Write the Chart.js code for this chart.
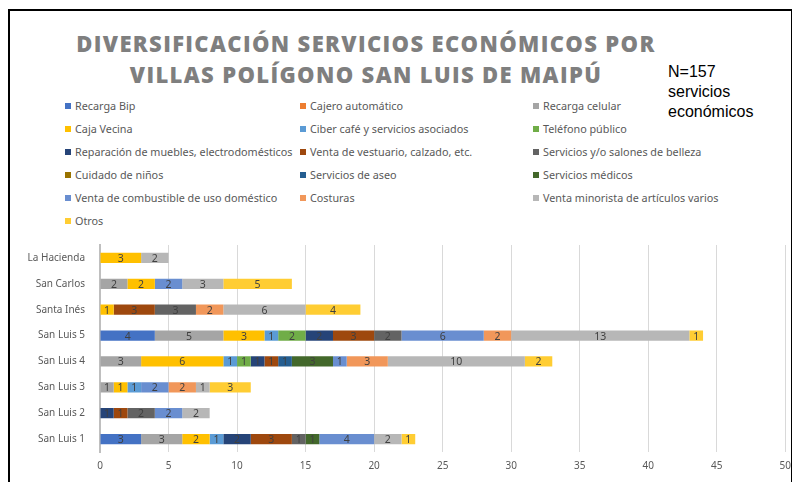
<!DOCTYPE html>
<html>
<head>
<meta charset="utf-8">
<script src="https://cdn.jsdelivr.net/npm/chart.js@4"></script>
<style>
  body { margin: 0; width: 799px; height: 482px; background: #fff; position: relative; overflow: hidden; font-family: 'Noto Sans', sans-serif; }
  #frame { position: absolute; left: 8px; top: 9px; width: 781px; height: 480px; border-left: 2px solid #000; border-top: 2px solid #000; border-right: 1px solid #000; }
  #title { position: absolute; left: 0; width: 732px; top: 28px; text-align: center; font-family: 'Open Sans', sans-serif; font-weight: 800; font-size: 22px; line-height: 31px; color: #7f7f7f; letter-spacing: 1.35px; }
  #note { position: absolute; left: 668px; top: 62px; font-family: 'Liberation Sans', Arial, sans-serif; font-size: 16px; line-height: 20px; color: #000; }
  #legend { position: absolute; left: 65px; top: 99px; }
  .item { position: absolute; white-space: nowrap; font-size: 10.8px; color: #595959; line-height: 14px; }
  .item i { display: inline-block; width: 6px; height: 6px; margin-right: 4px; vertical-align: 1px; }
  #wrap { position: absolute; left: 0; top: 232px; width: 799px; height: 250px; }
</style>
</head>
<body>
<div id="frame"></div>
<div id="title">DIVERSIFICACIÓN SERVICIOS ECONÓMICOS POR<br>VILLAS POLÍGONO SAN LUIS DE MAIPÚ</div>
<div id="note">N=157<br>servicios<br>económicos</div>
<div id="legend"></div>
<div id="wrap"><canvas id="chart"></canvas></div>
<script>
const villas = ['La Hacienda', 'San Carlos', 'Santa Inés', 'San Luis 5', 'San Luis 4', 'San Luis 3', 'San Luis 2', 'San Luis 1'];

const servicios = [
    'Recarga Bip', 'Cajero automático', 'Recarga celular',
    'Caja Vecina', 'Ciber café y servicios asociados', 'Teléfono público',
    'Reparación de muebles, electrodomésticos', 'Venta de vestuario, calzado, etc.', 'Servicios y/o salones de belleza',
    'Cuidado de niños', 'Servicios de aseo', 'Servicios médicos',
    'Venta de combustible de uso doméstico', 'Costuras', 'Venta minorista de artículos varios',
    'Otros',
];

const colores = [
    '#4472c4', '#ed7d31', '#a5a5a5', '#ffc000', '#5b9bd5', '#70ad47',
    '#264478', '#9e480e', '#636363', '#997300', '#255e91', '#43682b',
    '#698ed0', '#f1975a', '#b7b7b7', '#ffcd33',
];

// one row per servicio, values in the order of villas (0 = none)
const recargaBip     = [0, 0, 0, 4, 0, 0, 0, 3];
const cajero         = [0, 0, 0, 0, 0, 0, 0, 0];
const recargaCelular = [0, 2, 0, 5, 3, 1, 0, 3];
const cajaVecina     = [3, 2, 1, 3, 6, 1, 0, 2];
const ciberCafe      = [0, 0, 0, 1, 1, 1, 0, 1];
const telefono       = [0, 0, 0, 2, 1, 0, 0, 0];
const reparacion     = [0, 0, 0, 2, 1, 0, 1, 2];
const vestuario      = [0, 0, 3, 3, 1, 0, 1, 3];
const belleza        = [0, 0, 3, 2, 0, 0, 2, 1];
const cuidadoNinos   = [0, 0, 0, 0, 0, 0, 0, 0];
const aseo           = [0, 0, 0, 0, 1, 0, 0, 0];
const medicos        = [0, 0, 0, 0, 3, 0, 0, 1];
const combustible    = [0, 2, 0, 6, 1, 2, 2, 4];
const costuras       = [0, 0, 2, 2, 3, 2, 0, 0];
const minorista      = [2, 3, 6, 13, 10, 1, 2, 2];
const otros          = [0, 5, 4, 1, 2, 3, 0, 1];

const valores = [recargaBip, cajero, recargaCelular, cajaVecina, ciberCafe, telefono, reparacion, vestuario, belleza, cuidadoNinos, aseo, medicos, combustible, costuras, minorista, otros];

const xTicks = [0, 5, 10, 15, 20, 25, 30, 35, 40, 45, 50];

// html legend, 3 columns like the original
const legend = document.getElementById('legend');
const colX = [0, 235, 468];
servicios.forEach((name, i) => {
    const item = Object.assign(document.createElement('div'), { className: 'item' });
    item.style.left = colX[i % 3] + 'px';
    item.style.top = Math.floor(i / 3) * 23 + 'px';
    item.innerHTML = `<i style="background:${colores[i]}"></i>${name}`;
    legend.append(item);
});

const barLabels = {
    id: 'barLabels',
    afterDatasetsDraw(chart) {
        const ctx = chart.ctx;
        ctx.save();
        ctx.font = '10.5px "Noto Sans"';
        ctx.fillStyle = '#404040';
        ctx.textAlign = 'center';
        ctx.textBaseline = 'middle';
        chart.data.datasets.forEach((ds, di) => {
            chart.getDatasetMeta(di).data.forEach((bar, i) => {
                const v = ds.data[i];
                if (!v) return;
                ctx.fillText(v, (bar.x + bar.base) / 2, bar.y + 1);
            });
        });
        ctx.restore();
    },
};

new Chart(document.getElementById('chart'), {
    type: 'bar',
    data: {
        labels: villas,
        datasets: servicios.map((name, i) => ({
            label: name,
            data: valores[i],
            backgroundColor: colores[i],
            borderWidth: 0,
            barPercentage: 0.4,
            categoryPercentage: 1,
        })),
    },
    options: {
        indexAxis: 'y',
        animation: false,
        responsive: true,
        maintainAspectRatio: false,
        layout: { padding: { top: 4, right: 11, left: 0, bottom: 0 } },
        scales: {
            x: {
                stacked: true,
                min: 0,
                max: 50,
                afterBuildTicks: (scale) => { scale.ticks = xTicks.map((v) => ({ value: v })); },
                afterFit: (scale) => { scale.height = 30; },
                grid: { color: '#d9d9d9', drawTicks: false },
                border: { display: false },
                ticks: { padding: 8, color: '#595959', font: { family: 'Noto Sans', size: 10 } },
            },
            y: {
                stacked: true,
                afterFit: (scale) => { scale.width = 100; },
                grid: { display: false },
                border: { color: '#bfbfbf', width: 2 },
                ticks: { padding: 7, color: '#595959', font: { family: 'Noto Sans', size: 10 } },
            },
        },
        plugins: {
            legend: { display: false },
            tooltip: { enabled: false },
        },
    },
    plugins: [barLabels],
});
</script>
</body>
</html>
